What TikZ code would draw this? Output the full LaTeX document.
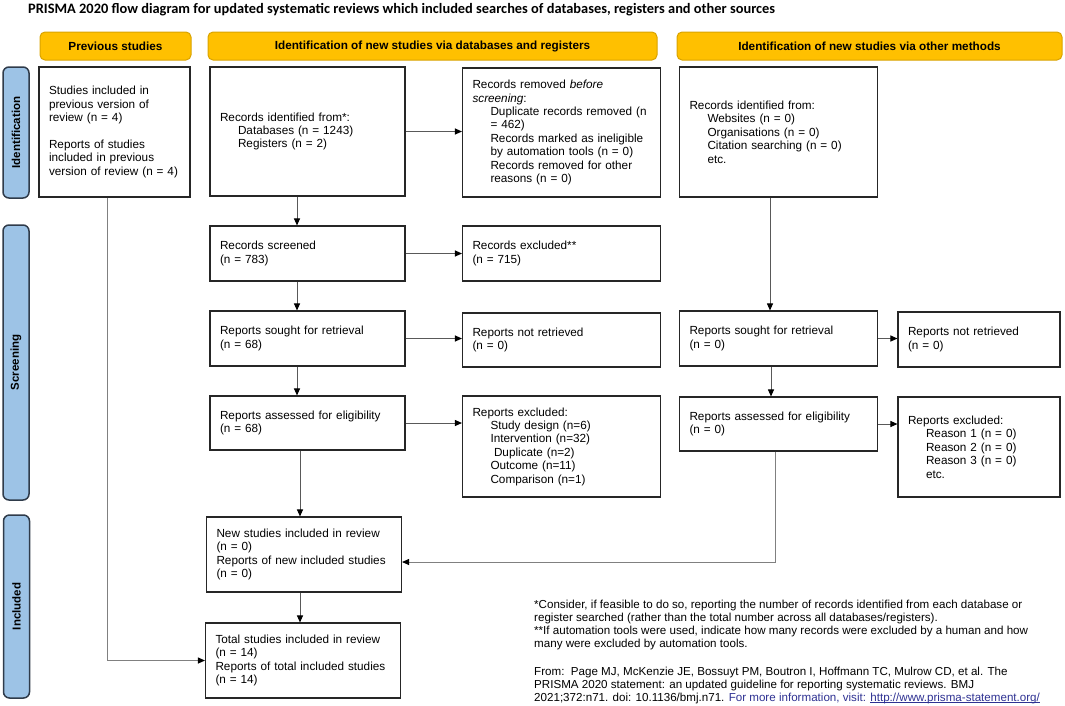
\documentclass[tikz,border=0pt]{standalone}
\usepackage{fontspec}
\setmainfont{Liberation Sans}
\newfontfamily\titlefont{Carlito}
\usetikzlibrary{arrows.meta}

\definecolor{hdrorange}{HTML}{FFC000}
\definecolor{hdredge}{HTML}{D9A300}
\definecolor{sideblue}{HTML}{9DC3E6}
\definecolor{sideedge}{HTML}{2F3B4A}
\definecolor{linkblue}{HTML}{2E3192}

\newcommand{\ind}{\hspace*{18pt}}
\newsavebox{\linkbox}
\newcommand{\linkuline}[1]{\sbox{\linkbox}{#1}\rlap{\rule[-1.6pt]{\wd\linkbox}{0.7pt}}\usebox{\linkbox}}

\tikzset{
  header/.style={draw=hdredge, fill=hdrorange, rounded corners=5pt, line width=1pt,
    minimum height=28pt, font=\fontsize{11.75}{14}\selectfont\bfseries},
  sidebar/.style={draw=sideedge, fill=sideblue, rounded corners=6pt, line width=1.5pt,
    rotate=90, minimum height=26pt, font=\fontsize{11.5}{14}\selectfont\bfseries},
  box/.style={draw=black!85, fill=white, line width=1.1pt, align=left, inner xsep=10pt,
    font=\fontsize{11.75}{13.4}\selectfont},
  colmain/.style={box, minimum width=195pt, text width=175pt},
  colside/.style={box, minimum width=198pt, text width=178pt},
  colnarrow/.style={box, minimum width=162pt, text width=142pt},
  arrow/.style={draw=black!65, line width=1pt, -{Triangle[length=7pt,width=6pt,color=black]}},
  greyline/.style={draw=black!50, line width=1pt}
}

\begin{document}
\begin{tikzpicture}[x=1pt, y=-1pt]
        \useasboundingbox (0,0) rectangle (1065,705);

        % title and headers
        \node[anchor=base west, inner sep=0, font=\titlefont\fontsize{14.4}{16}\selectfont\bfseries] (title) at (28,13)
            {PRISMA 2020 flow diagram for updated systematic reviews which included searches of databases, registers and other sources};
        \node[header, minimum width=151pt] (hprev) at (115.5,46) {Previous studies};
        \node[header, minimum width=449pt] (hdb) at (432.5,46) {Identification of new studies via databases and registers};
        \node[header, minimum width=385pt] (hother) at (869.5,46) {Identification of new studies via other methods};

        % side bars
        \node[sidebar, minimum width=131pt] (sident) at (16,132.5) {Identification};
        \node[sidebar, minimum width=275pt] (sscreen) at (16,362.5) {Screening};
        \node[sidebar, minimum width=183pt] (sincl) at (16.5,606.5) {Included};

        % previous studies
        \node[box, minimum width=151pt, text width=131pt, minimum height=130pt] (prev) at (114.5,132)
            {Studies included in\\previous version of\\review (n = 4)\\[13.4pt]
             Reports of studies\\included in previous\\version of review (n = 4)};

        % databases and registers
        \node[colmain, minimum height=129pt] (recid) at (307.5,131.5)
            {Records identified from*:\\ \ind Databases (n = 1243)\\ \ind Registers (n = 2)};
        \node[colside, minimum height=129pt] (recrem) at (561.5,132.5)
            {Records removed \emph{before}\\ \emph{screening}:\\
             \ind Duplicate records removed (n\\ \ind = 462)\\
             \ind Records marked as ineligible\\ \ind by automation tools (n = 0)\\
             \ind Records removed for other\\ \ind reasons (n = 0)};
        \node[colmain, minimum height=55pt] (screened) at (307.5,253.5) {Records screened\\(n = 783)};
        \node[colside, minimum height=55pt] (excluded) at (561.5,253.5) {Records excluded**\\(n = 715)};
        \node[colmain, minimum height=55pt] (sought) at (307.5,338.5) {Reports sought for retrieval\\(n = 68)};
        \node[colside, minimum height=54pt] (notret) at (561.5,340) {Reports not retrieved\\(n = 0)};
        \node[colmain, minimum height=54pt] (assessed) at (307.5,423) {Reports assessed for eligibility\\(n = 68)};
        \node[colside, minimum height=101pt] (repexcl) at (561.5,446.5)
            {Reports excluded:\\ \ind Study design (n=6)\\ \ind Intervention (n=32)\\
             \hspace*{21.5pt}Duplicate (n=2)\\ \ind Outcome (n=11)\\ \ind Comparison (n=1)};

        % other methods
        \node[colside, minimum height=130pt] (othid) at (778.5,132)
            {Records identified from:\\ \ind Websites (n = 0)\\ \ind Organisations (n = 0)\\
             \ind Citation searching (n = 0)\\ \ind etc.};
        \node[colside, minimum height=55pt] (othsought) at (778.5,338.5) {Reports sought for retrieval\\(n = 0)};
        \node[colnarrow, minimum height=55pt] (othnotret) at (979,339.5) {Reports not retrieved\\(n = 0)};
        \node[colside, minimum height=54pt] (othassessed) at (778.5,424) {Reports assessed for eligibility\\(n = 0)};
        \node[colnarrow, minimum height=100pt] (othexcl) at (979,447)
            {Reports excluded:\\ \ind Reason 1 (n = 0)\\ \ind Reason 2 (n = 0)\\
             \ind Reason 3 (n = 0)\\ \ind etc.};

        % included
        \node[colmain, minimum width=194pt, minimum height=75pt] (newinc) at (304,554.5)
            {New studies included in review\\(n = 0)\\Reports of new included studies\\(n = 0)};
        \node[colmain, minimum width=194pt, minimum height=75pt] (total) at (303,660.5)
            {Total studies included in review\\(n = 14)\\Reports of total included studies\\(n = 14)};

        % connectors
        \draw[arrow] (recid.east) -- (recid.east -| recrem.west);
        \draw[arrow] ([xshift=-10.5pt]recid.south) -- ([xshift=-10.5pt]screened.north);
        \draw[arrow] (screened.east) -- (screened.east -| excluded.west);
        \draw[arrow] ([xshift=-10.5pt]screened.south) -- ([xshift=-10.5pt]sought.north);
        \draw[arrow] (sought.east) -- (sought.east -| notret.west);
        \draw[arrow] ([xshift=-10.5pt]sought.south) -- ([xshift=-10.5pt]assessed.north);
        \draw[arrow] (assessed.east) -- (assessed.east -| repexcl.west);
        \draw[arrow] ([xshift=-7.5pt]assessed.south) -- ([xshift=-7.5pt]assessed.south |- newinc.north);
        \draw[arrow] ([xshift=-4pt]newinc.south) -- ([xshift=-4pt]newinc.south |- total.north);
        \draw[greyline, -{Triangle[length=7pt,width=6pt,color=black]}] ([xshift=-7.5pt]prev.south) |- (total.west);

        \draw[arrow] ([xshift=-8.5pt]othid.south) -- ([xshift=-8.5pt]othsought.north);
        \draw[arrow] (othsought.east) -- (othsought.east -| othnotret.west);
        \draw[arrow] ([xshift=-7.5pt]othsought.south) -- ([xshift=-7.5pt]othassessed.north);
        \draw[arrow] (othassessed.east) -- (othassessed.east -| othexcl.west);
        \draw[greyline, -{Triangle[length=7pt,width=6pt,color=black]}] ([xshift=-3.5pt]othassessed.south) |- ([yshift=-7.5pt]newinc.east);

        % notes
        \node[anchor=north west, inner sep=0, align=left, font=\fontsize{11.6}{13}\selectfont] (notes) at (534,599.5)
            {*Consider, if feasible to do so, reporting the number of records identified from each database or\\
             register searched (rather than the total number across all databases/registers).\\
             **If automation tools were used, indicate how many records were excluded by a human and how\\
             many were excluded by automation tools.\\[15pt]
             From:\ \ Page MJ, McKenzie JE, Bossuyt PM, Boutron I, Hoffmann TC, Mulrow CD, et al. The\\
             PRISMA 2020 statement: an updated guideline for reporting systematic reviews. BMJ\\
             2021;372:n71. doi: 10.1136/bmj.n71. {\color{linkblue}For more information, visit: \linkuline{http://www.prisma-statement.org/}}};

\end{tikzpicture}
\end{document}
